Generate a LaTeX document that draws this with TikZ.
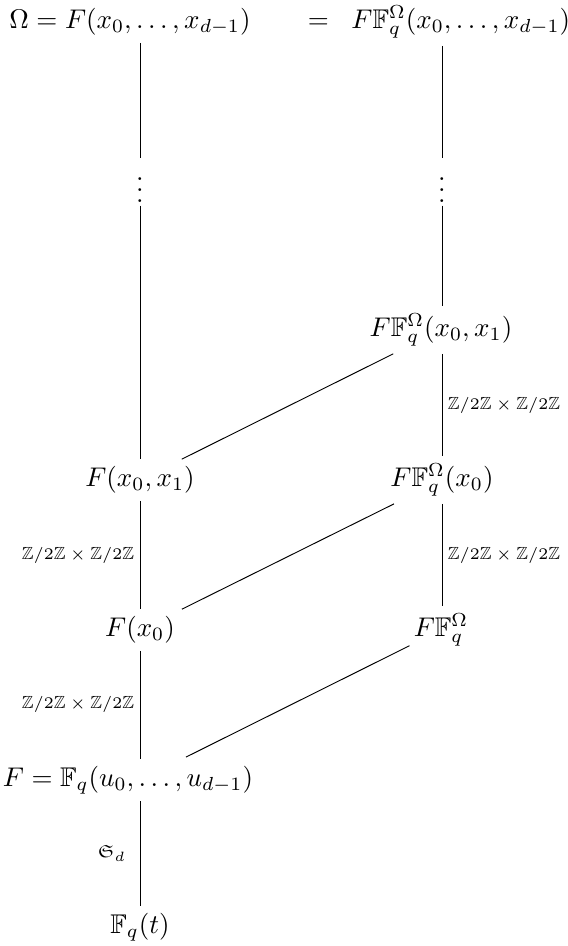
\documentclass[tikz,border=0pt]{standalone}
\usepackage{amssymb}
\usepackage{amsmath}
\begin{document}
\begin{tikzpicture}[x=0.37pt,y=-0.37pt,
  fld/.style={inner sep=2.5pt},
  vd/.style={inner sep=1pt},
  lbl/.style={font=\fontsize{6.5}{8}\selectfont,inner sep=2pt},
  ln/.style={line width=0.35pt}]
\useasboundingbox (0,0) rectangle (568,946);
% column coordinates
\coordinate (L) at (140,0);
\coordinate (R) at (442,0);
% nodes
\node[fld] (Om) at (130,22) {$\Omega = F(x_0,\ldots,x_{d-1})$};
\node[fld] (Rt) at (439,22) {$=\;\;F\mathbb{F}_q^{\Omega}(x_0,\ldots,x_{d-1})$};
\node[vd] (lv) at (140,182) {$\vdots$};
\node[vd] (rv) at (442,182) {$\vdots$};
\node[fld] (FF01) at (441,330) {$F\mathbb{F}_q^{\Omega}(x_0,x_1)$};
\node[fld] (F01) at (140,480) {$F(x_0,x_1)$};
\node[fld] (FF0) at (442,480) {$F\mathbb{F}_q^{\Omega}(x_0)$};
\node[fld] (F0) at (140,630) {$F(x_0)$};
\node[fld] (FFq) at (441,630) {$F\mathbb{F}_q^{\Omega}$};
\node[fld] (Fu) at (128,780) {$F = \mathbb{F}_q(u_0,\ldots,u_{d-1})$};
\node[fld] (Ft) at (140,927) {$\mathbb{F}_q(t)$};
\coordinate (cFu) at (140,780);
\coordinate (cFFq) at (441,630);
% verticals left
\draw[ln] (Om.south -| L) -- (lv.north);
\draw[ln] (lv.south) -- (F01.north);
\draw[ln] (F01.south) -- node[lbl,left]{$\mathbb{Z}/2\mathbb{Z}\times\mathbb{Z}/2\mathbb{Z}$} (F0.north);
\draw[ln] (F0.south) -- node[lbl,left]{$\mathbb{Z}/2\mathbb{Z}\times\mathbb{Z}/2\mathbb{Z}$} (Fu.north -| L);
\draw[ln] (Fu.south -| L) -- node[lbl,left,xshift=-3pt]{$\mathfrak{S}_d$} (Ft.north);
% verticals right
\draw[ln] (Rt.south -| R) -- (rv.north);
\draw[ln] (rv.south) -- (FF01.north -| R);
\draw[ln] (FF01.south -| R) -- node[lbl,right]{$\mathbb{Z}/2\mathbb{Z}\times\mathbb{Z}/2\mathbb{Z}$} (FF0.north);
\draw[ln] (FF0.south) -- node[lbl,right]{$\mathbb{Z}/2\mathbb{Z}\times\mathbb{Z}/2\mathbb{Z}$} (FFq.north -| R);
% diagonals
\draw[ln] (F01) -- (FF01);
\draw[ln] (F0) -- (FF0);
\draw[ln,shorten <=19pt,shorten >=13pt] (cFu) -- (cFFq);
\end{tikzpicture}
\end{document}
